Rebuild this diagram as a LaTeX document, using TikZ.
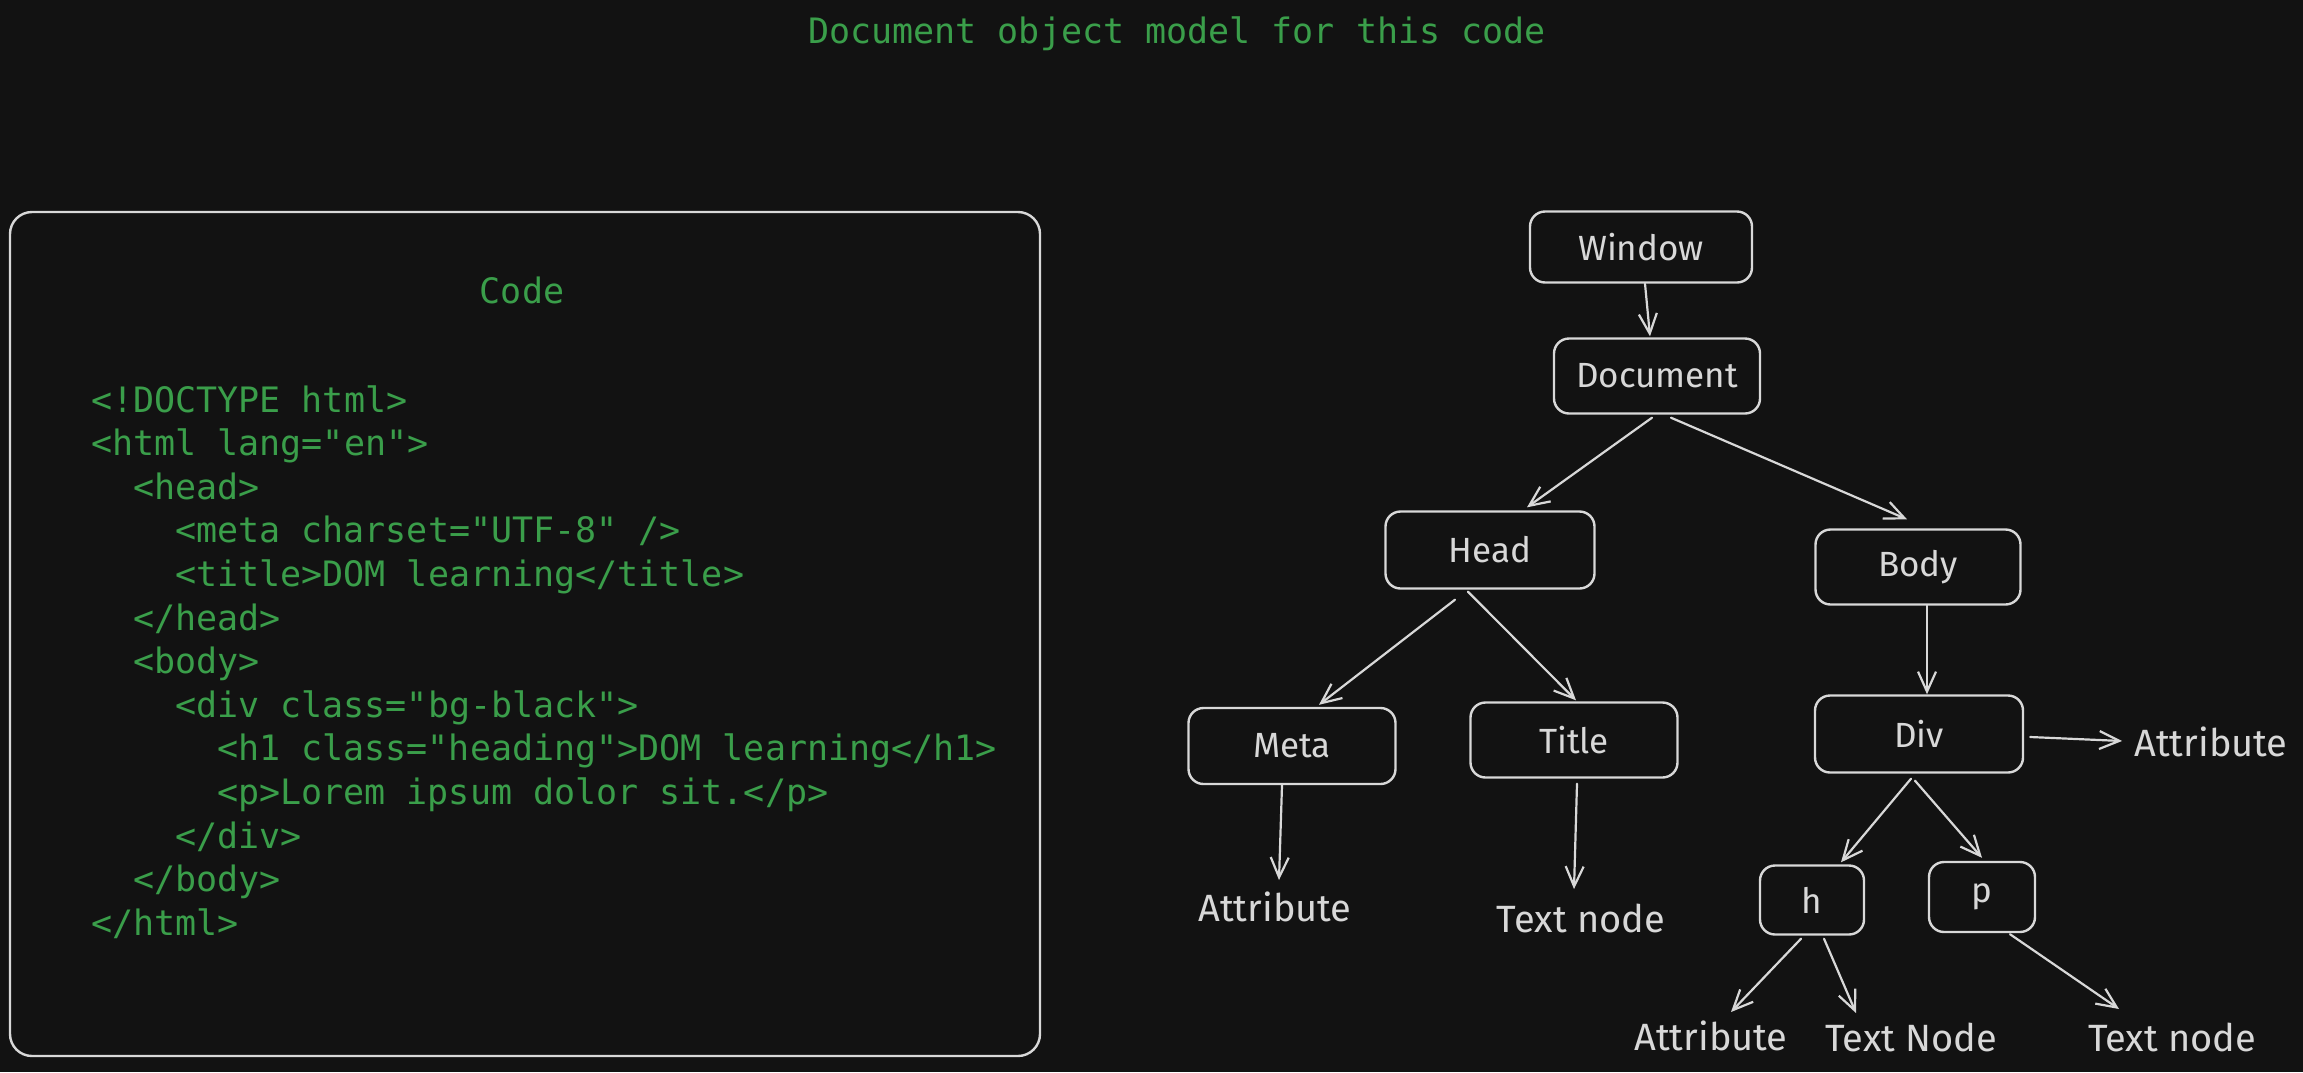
\documentclass[tikz,border=0pt]{standalone}
\usepackage{fontspec}
\usetikzlibrary{arrows.meta}
\newfontfamily\codefont{DejaVu Sans Mono}
\newfontfamily\handfont{Fira Sans}
\definecolor{bgc}{HTML}{121212}
\definecolor{codegreen}{HTML}{3A9E4A}
\definecolor{ink}{HTML}{D8D8D8}
\tikzset{
  codeline/.style={anchor=base west, inner sep=0pt, text=codegreen, font=\codefont\fontsize{35}{40}\selectfont},
  domnode/.style={draw=ink, line width=2.4pt, rounded corners=15pt, text=ink, inner sep=0pt,
    font=\handfont\fontsize{35}{40}\selectfont},
  freelabel/.style={text=ink, inner sep=0pt, font=\handfont\fontsize{38}{44}\selectfont},
  arr/.style={draw=ink, line width=2.2pt, line cap=round,
    -{Straight Barb[length=20pt,width=18pt,line width=2.2pt]}}
}
\begin{document}
\begin{tikzpicture}[x=1pt,y=-1pt]
\useasboundingbox (0,0) rectangle (2303,1072);
\fill[bgc] (0,0) rectangle (2303,1072);

% title
\node[codeline, anchor=base] (maintitle) at (1177,43) {Document object model for this code};

% code box
\node[draw=ink, line width=2.4pt, rounded corners=22pt, minimum width=1030pt, minimum height=844pt, inner sep=0pt] (codebox) at (525,634) {};
\node[codeline, anchor=base] (codehead) at (522,303) {Code};

\node[codeline] (c1)  at (91,412)    {<!DOCTYPE html>};
\node[codeline] (c2)  at (91,455.6)  {<html lang="en">};
\node[codeline] (c3)  at (133,499.2) {<head>};
\node[codeline] (c4)  at (175,542.8) {<meta charset="UTF-8" />};
\node[codeline] (c5)  at (175,586.4) {<title>DOM learning</title>};
\node[codeline] (c6)  at (133,630) {</head>};
\node[codeline] (c7)  at (133,673.6) {<body>};
\node[codeline] (c8)  at (175,717.2) {<div class="bg-black">};
\node[codeline] (c9)  at (217,760.8) {<h1 class="heading">DOM learning</h1>};
\node[codeline] (c10) at (217,804.4) {<p>Lorem ipsum dolor sit.</p>};
\node[codeline] (c11) at (175,848)   {</div>};
\node[codeline] (c12) at (133,891.6) {</body>};
\node[codeline] (c13) at (91,935.2)  {</html>};

% DOM tree nodes
\node[domnode, minimum width=222pt, minimum height=71pt] (win)   at (1641,247) {Window};
\node[domnode, minimum width=206pt, minimum height=75pt] (doc)   at (1657,376) {Document};
\node[domnode, minimum width=209pt, minimum height=77pt] (head)  at (1490,550) {Head};
\node[domnode, minimum width=205pt, minimum height=75pt] (body)  at (1918,567) {Body};
\node[domnode, minimum width=207pt, minimum height=76pt] (meta)  at (1292,746) {Meta};
\node[domnode, minimum width=207pt, minimum height=75pt] (title) at (1574,740) {Title};
\node[domnode, minimum width=208pt, minimum height=77pt] (div)   at (1919,734) {Div};
\node[domnode, minimum width=104pt, minimum height=69pt] (h)     at (1812,900) {h};
\node[domnode, minimum width=106pt, minimum height=70pt] (p)     at (1982,897) {p};

% free labels
\node[freelabel] (a1) at (1275,907)  {Attribute};
\node[freelabel] (t1) at (1581,918)  {Text node};
\node[freelabel] (a2) at (2211,742)  {Attribute};
\node[freelabel] (a3) at (1711,1036) {Attribute};
\node[freelabel] (t2) at (1911,1037) {Text Node};
\node[freelabel] (t3) at (2172,1037) {Text node};

% connectors
\draw[arr] ([shift={(4,0)}]win.south)    -- ([shift={(-7,-1)}]doc.north);
\draw[arr] ([shift={(-5,3)}]doc.south)   -- ([shift={(37,-3)}]head.north);
\draw[arr] ([shift={(14,3)}]doc.south)   -- ([shift={(-11,-9)}]body.north);
\draw[arr] ([shift={(-35,10)}]head.south) -- ([shift={(27,-2)}]meta.north);
\draw[arr] ([shift={(-22,2)}]head.south) -- ([shift={(2,-1)}]title.north);
\draw[arr] ([shift={(9,0)}]body.south)   -- ([shift={(8,0)}]div.north);
\draw[arr] ([shift={(-10,0)}]meta.south) -- ([shift={(4,-27)}]a1.center);
\draw[arr] ([shift={(3,5)}]title.south)  -- ([shift={(-7,-29)}]t1.center);
\draw[arr] ([shift={(6,3)}]div.east)     -- ([shift={(-89,-1)}]a2.center);
\draw[arr] ([shift={(-8,5)}]div.south)   -- ([shift={(29,-2)}]h.north);
\draw[arr] ([shift={(-4,7)}]div.south)   -- ([shift={(0,-3)}]p.north);
\draw[arr] ([shift={(-11,3)}]h.south)    -- ([shift={(20,-24)}]a3.center);
\draw[arr] ([shift={(12,3)}]h.south)     -- ([shift={(-55,-24)}]t2.center);
\draw[arr] ([shift={(28,1)}]p.south)     -- ([shift={(-53,-28)}]t3.center);
\end{tikzpicture}
\end{document}
